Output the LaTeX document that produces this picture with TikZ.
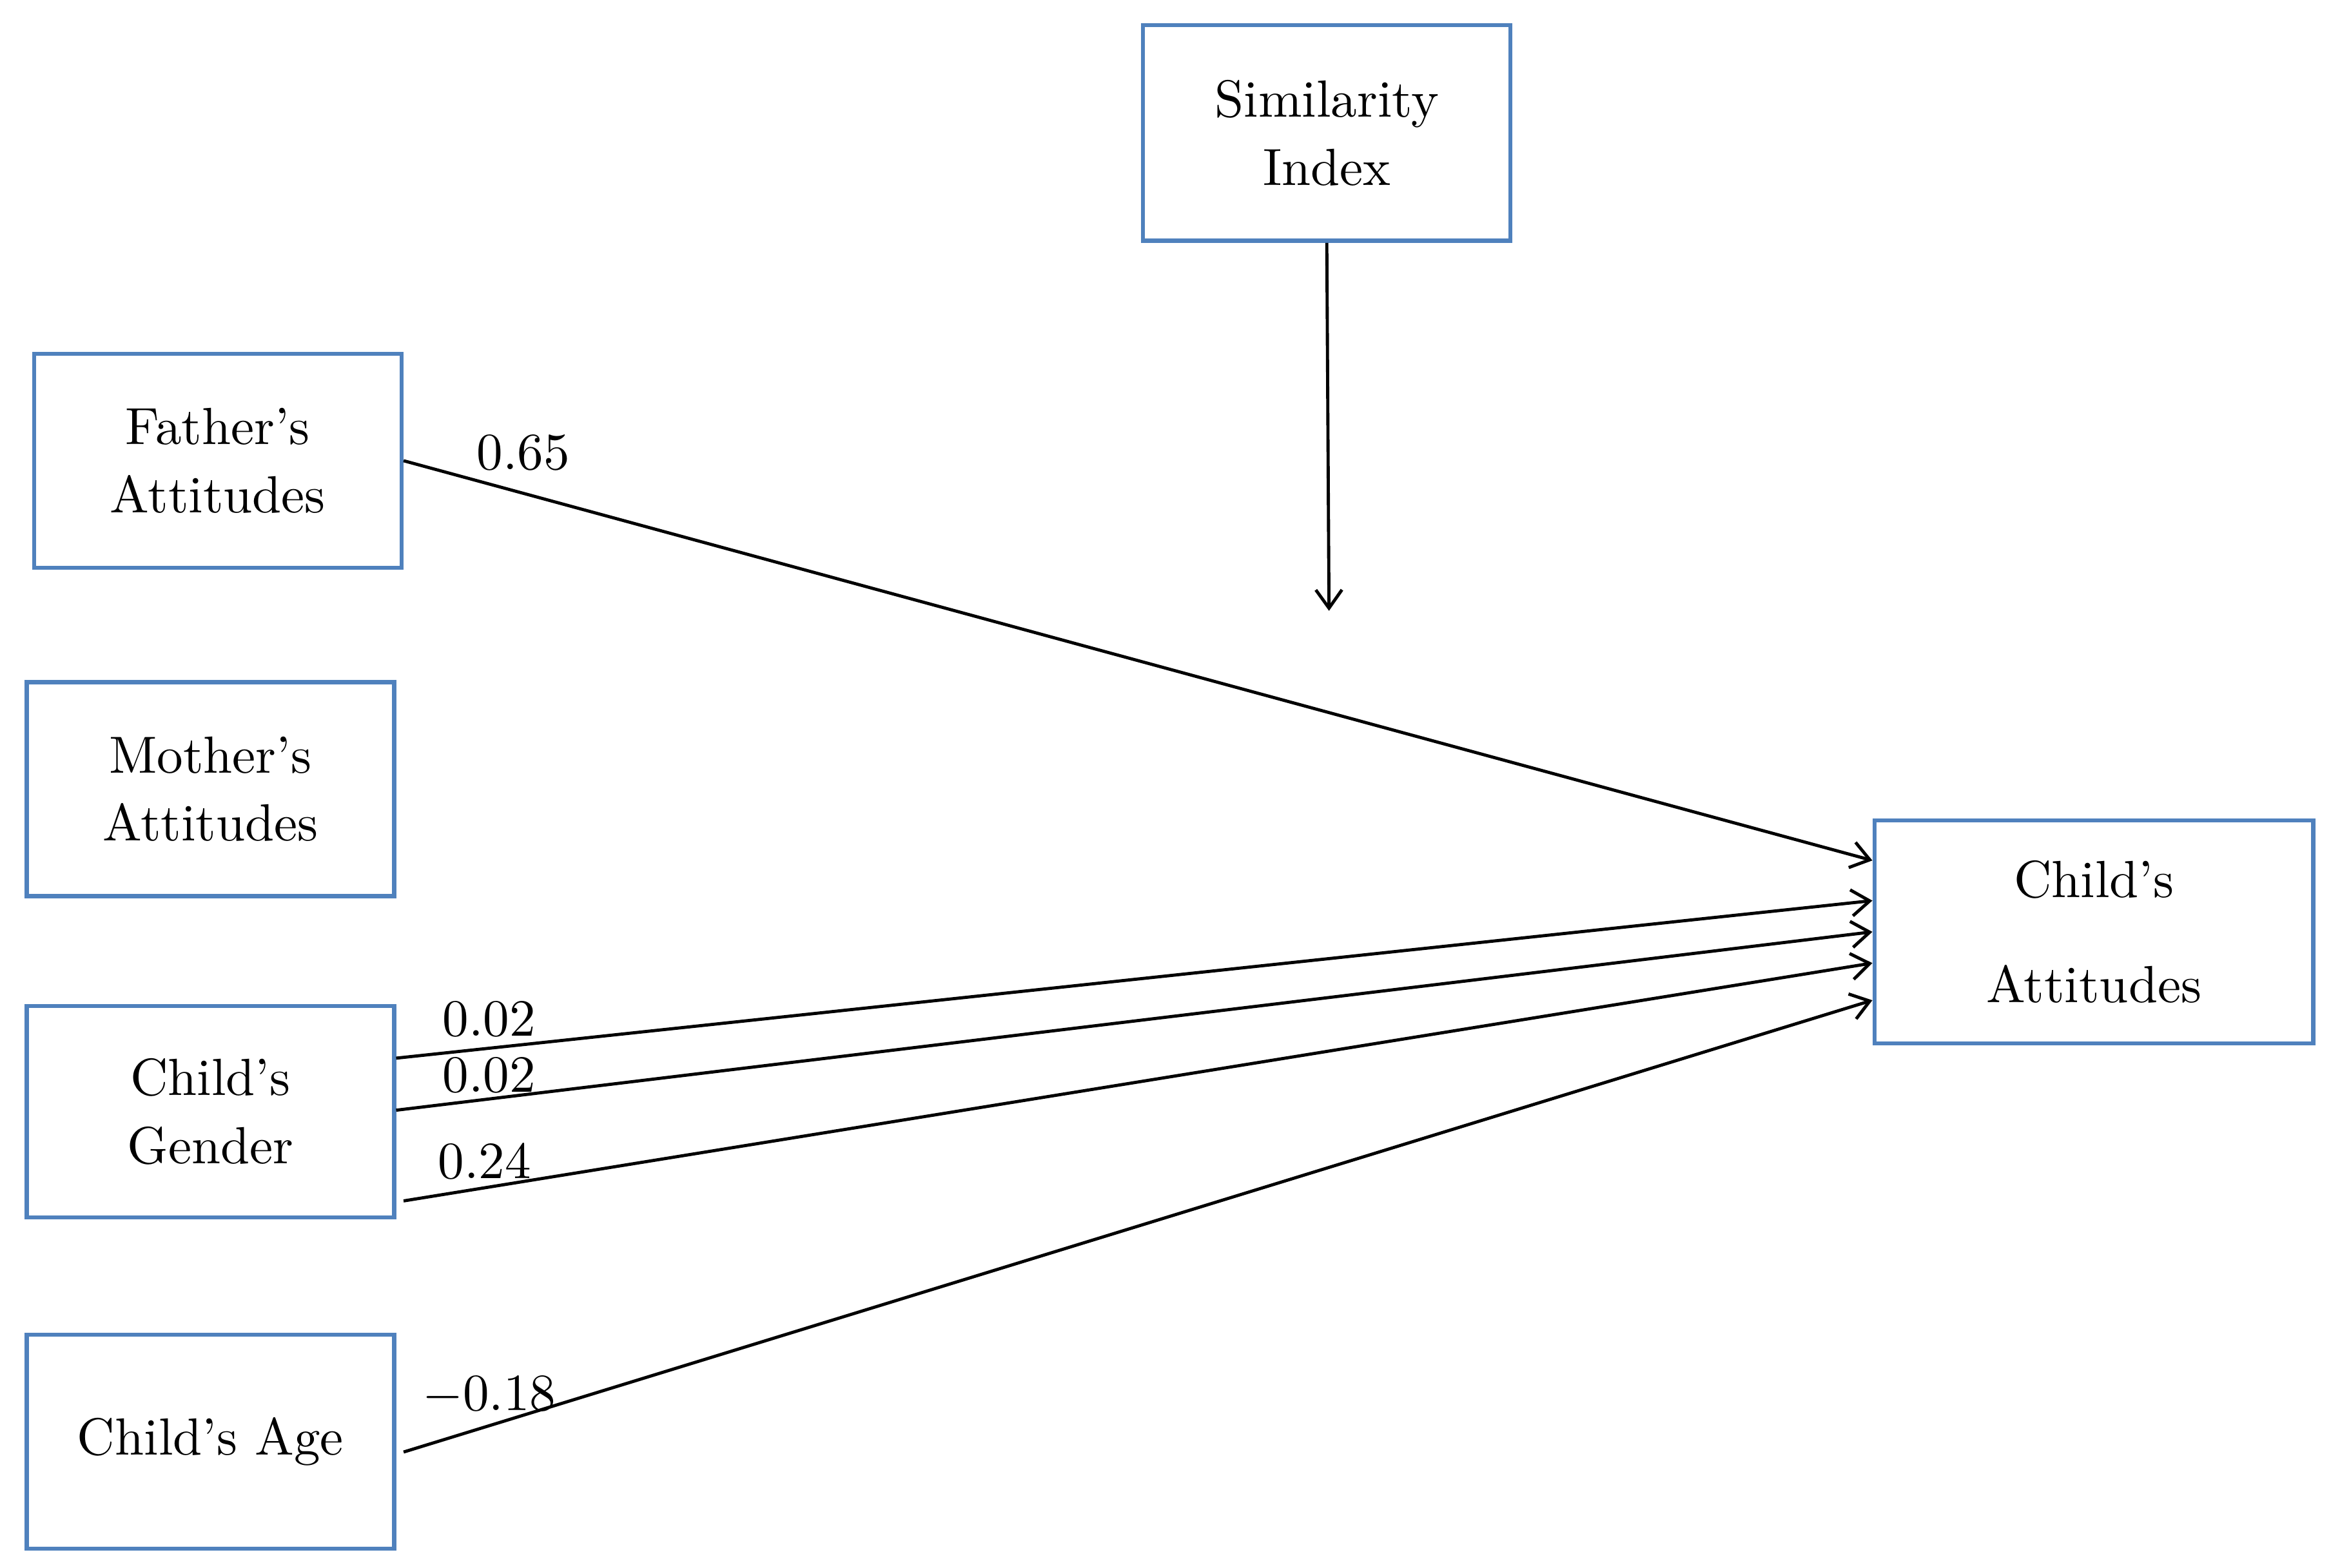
\documentclass[tikz,border=0pt]{standalone}
\usetikzlibrary{arrows.meta}
\definecolor{bx}{HTML}{4F81BD}
\begin{document}
\begin{tikzpicture}[x=0.01cm,y=-0.01cm,
  box/.style={draw=bx,line width=0.8pt,align=center,inner sep=0pt,font=\normalsize},
  arr/.style={line width=0.6pt,-{Straight Barb[length=3.5pt,width=5pt]}},
  lab/.style={font=\normalsize,anchor=base}]
\useasboundingbox (0,0) rectangle (1568,1055);
\node[box,minimum width=2.47cm,minimum height=1.45cm] (sim) at (892.5,89.5) {Similarity\\[1pt]Index};
\node[box,minimum width=2.47cm,minimum height=1.44cm] (fa) at (146.5,310) {Father's\\[1pt]Attitudes};
\node[box,minimum width=2.47cm,minimum height=1.44cm] (mo) at (141.5,531) {Mother's\\[1pt]Attitudes};
\node[box,minimum width=2.47cm,minimum height=1.42cm] (cg) at (141.5,748) {Child's\\[1pt]Gender};
\node[box,minimum width=2.47cm,minimum height=1.44cm] (ca) at (141.5,970) {Child's Age};
\node[box,minimum width=2.95cm,minimum height=1.50cm] (ch) at (1408.5,627) {Child's\\[8pt]Attitudes};
\coordinate (m) at (894,411);
\draw[arr] (sim.south) -- (m);
\draw[arr] (fa.east) -- ([yshift=0.48cm]ch.west);
\draw[arr] ([yshift=0.36cm]cg.east) -- ([yshift=0.21cm]ch.west);
\draw[arr] ([yshift=0.01cm]cg.east) -- (ch.west);
\draw[arr] ([xshift=0.05cm,yshift=-0.60cm]cg.east) -- ([yshift=-0.21cm]ch.west);
\draw[arr] ([xshift=0.05cm,yshift=-0.07cm]ca.east) -- ([yshift=-0.46cm]ch.west);
\node[lab] at (352,316) {0.65};
\node[lab] at (329,697) {0.02};
\node[lab] at (329,735) {0.02};
\node[lab] at (326,793) {0.24};
\node[lab] at (329,949) {$-$0.18};
\end{tikzpicture}
\end{document}
